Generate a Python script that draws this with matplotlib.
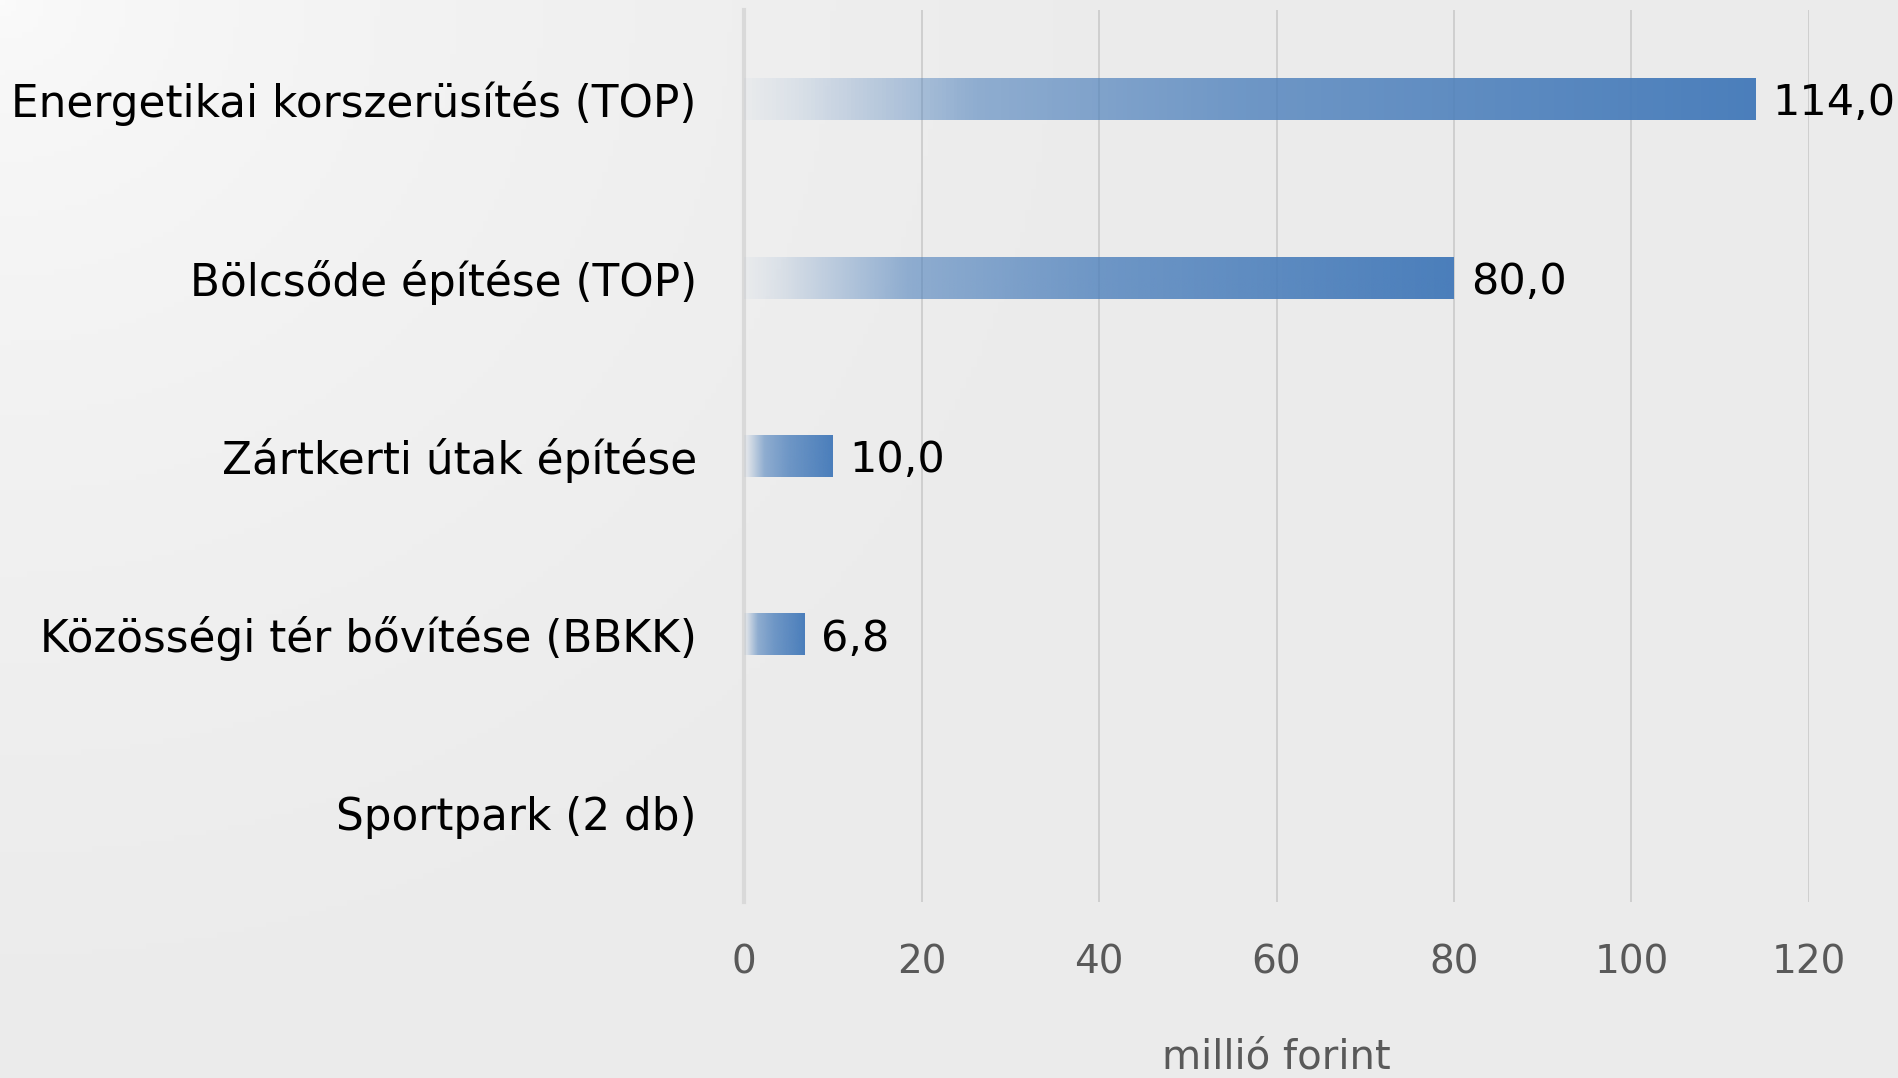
import matplotlib.pyplot as plt
import numpy as np

# adatok
categories = ["Energetikai korszerüsítés (TOP)", "Bölcsőde építése (TOP)",
              "Zártkerti útak építése", "Közösségi tér bővítése (BBKK)",
              "Sportpark (2 db)"]
values = [114.0, 80.0, 10.0, 6.8, 0.0]
value_labels = ["114,0", "80,0", "10,0", "6,8", ""]
x_ticks = [0, 20, 40, 60, 80, 100, 120]
x_label = "millió forint"

plt.rcParams['font.family'] = ['DejaVu Sans']

fig = plt.figure(figsize=(18.99, 10.78), dpi=100)

# háttér: világos szürke átmenet a bal felső sarokból
bg = fig.add_axes([0, 0, 1, 1], zorder=-10)
yy, xx = np.mgrid[0:1:200j, 0:1:350j]
d = np.clip(np.sqrt((xx * 1.6) ** 2 + yy ** 2) / 0.9, 0, 1)
shade = 0.985 - 0.06 * d ** 0.6
bg.imshow(np.dstack([shade, shade, shade]), extent=[0, 1, 0, 1], aspect='auto', origin='upper')
bg.axis('off')

ax = fig.add_axes([0.3918, 0.1633, 0.5608, 0.8274])
ax.patch.set_alpha(0)

y = np.arange(len(categories))
bars = ax.barh(y, values, height=0.235, color='none', edgecolor='none', zorder=3)

# színátmenet a sávokon
blue = np.array([0x4a, 0x7e, 0xbb]) / 255
t = np.linspace(0, 1, 256)
grad = np.zeros((1, 256, 4))
grad[0, :, :3] = blue
grad[0, :, 3] = np.interp(t, [0, 0.05, 0.23, 0.5, 1], [0.03, 0.12, 0.58, 0.78, 1])
for bar, v in zip(bars, values):
    if v <= 0:
        continue
    yb = bar.get_y()
    im = ax.imshow(grad, extent=[0, v, yb + bar.get_height(), yb], aspect='auto', zorder=3)
    im.set_clip_path(bar)

for yi, v, lab in zip(y, values, value_labels):
    if lab:
        ax.annotate(lab, (v, yi), xytext=(12, -3), textcoords='offset points',
                    va='center', ha='left', fontsize=31, color='black', clip_on=False)

ax.set_xlim(0, 120)
ax.set_ylim(len(categories) - 0.5, -0.5)
ax.set_xticks(x_ticks)
ax.set_xticklabels([str(v) for v in x_ticks])
ax.set_yticks(y)
ax.set_yticklabels(categories)
ax.tick_params(axis='y', length=0, pad=34, labelsize=31.5, labelcolor='black')
ax.tick_params(axis='x', length=0, pad=30, labelsize=28, labelcolor='#595959')
ax.grid(axis='x', color='#cacaca', linewidth=1.2, zorder=0)
ax.set_axisbelow(True)
for s in ['top', 'right', 'bottom']:
    ax.spines[s].set_visible(False)
ax.spines['left'].set_color('#d9d9d9')
ax.spines['left'].set_linewidth(3)
ax.spines['left'].set_zorder(1)

ax.set_xlabel(x_label, fontsize=29, color='#595959', labelpad=40)

fig.savefig("out.png", dpi=100)
